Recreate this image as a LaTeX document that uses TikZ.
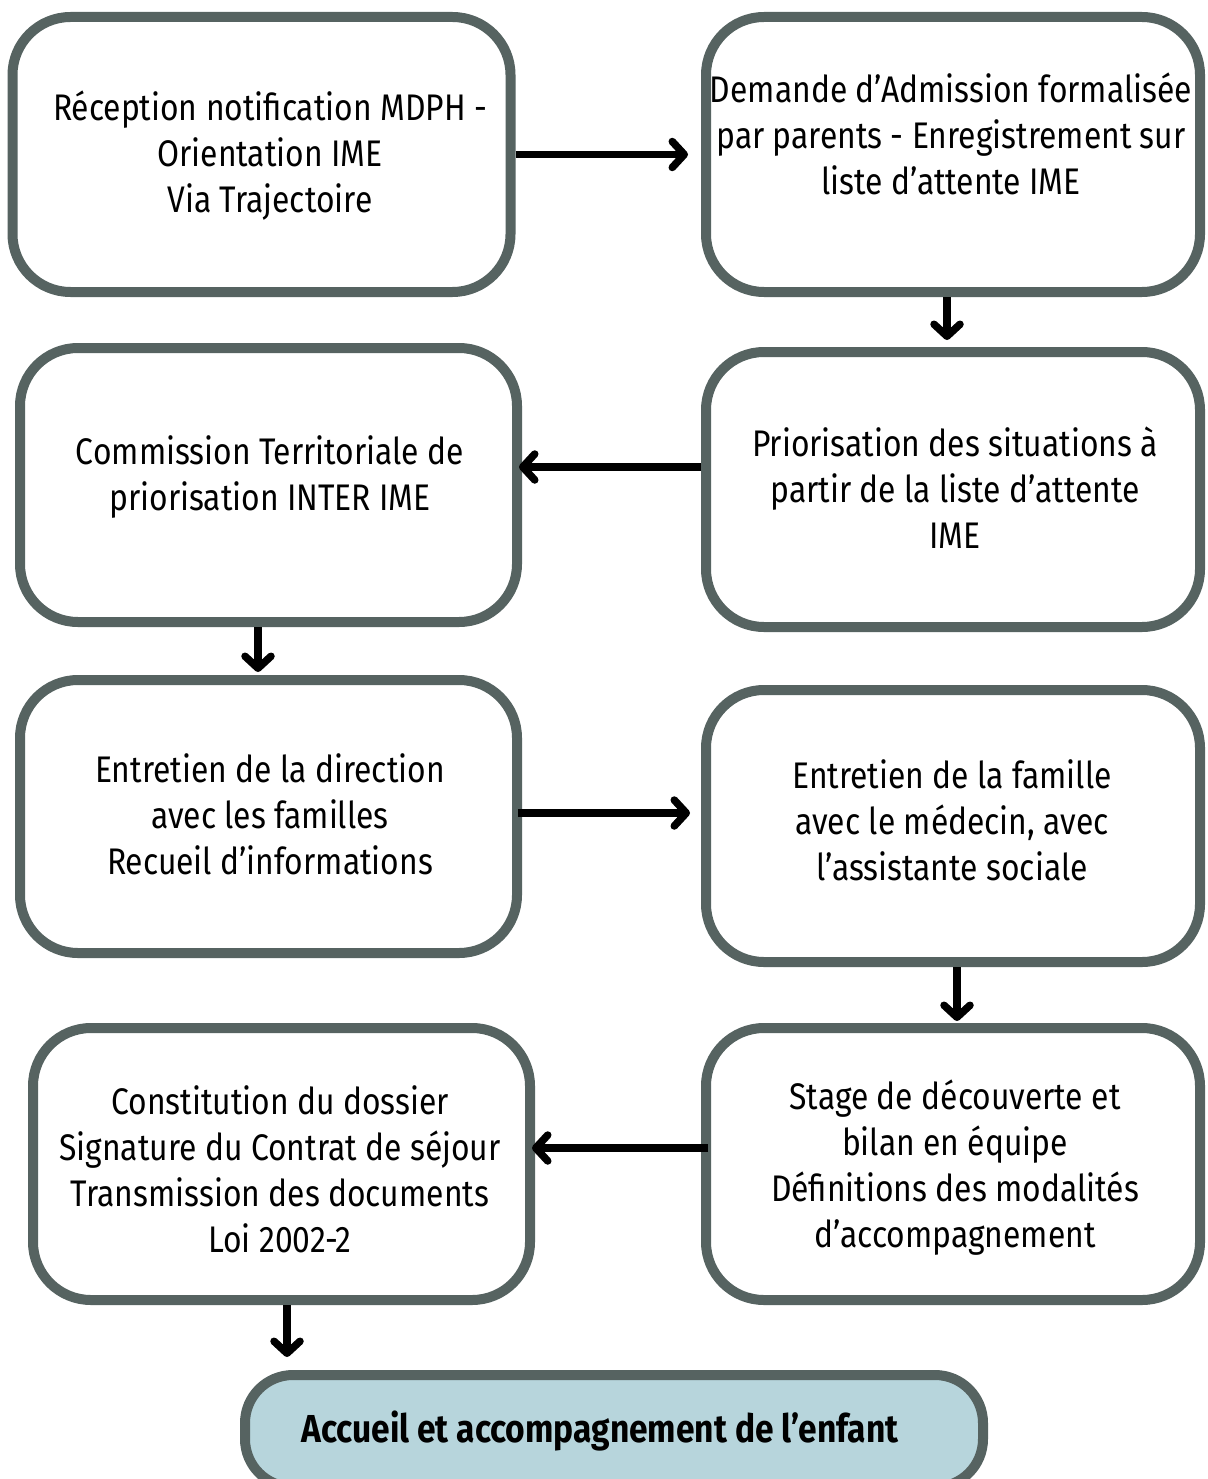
\documentclass[tikz,border=0pt]{standalone}
\usepackage{fontspec}
\setmainfont{Fira Sans}[FakeStretch=0.86]
\usetikzlibrary{arrows.meta}
\definecolor{boxgray}{RGB}{86,99,97}
\definecolor{endfill}{RGB}{183,213,220}
\begin{document}
\begin{tikzpicture}[x=1pt,y=-1pt,
 box/.style={draw=boxgray, line width=10pt, rounded corners=58pt, fill=white, inner sep=0pt},
 txt/.style={align=center, font=\fontsize{37}{46}\selectfont, inner sep=0pt},
 arr/.style={line width=7.5pt, -{Straight Barb[length=12pt,width=26pt,line cap=round,line join=round]}},
]
\clip (0,0) rectangle (1207,1479);
\useasboundingbox (0,0) rectangle (1207,1479);
\fill[white] (0,0) rectangle (1207,1479);

\node[box, minimum width=498pt, minimum height=275pt] (b1) at (261.5,154.5) {};
\node[box, minimum width=494pt, minimum height=275pt] (b2) at (953,154.5) {};
\node[box, minimum width=494pt, minimum height=275pt] (b3) at (953,489.5) {};
\node[box, minimum width=497pt, minimum height=274pt] (b4) at (268.5,485) {};
\node[box, minimum width=497pt, minimum height=273pt] (b5) at (268.5,816.5) {};
\node[box, minimum width=494pt, minimum height=272pt] (b6) at (953,826) {};
\node[box, minimum width=494pt, minimum height=272pt] (b7) at (953,1164) {};
\node[box, minimum width=497pt, minimum height=272pt] (b8) at (281.5,1164) {};
\node[box, fill=endfill, rounded corners=48pt, minimum width=738pt, minimum height=112pt] (fin) at (614,1431) {};

\node[txt] (t1) at (270,156) {Réception notification MDPH -\\Orientation IME\\Via Trajectoire};
\node[txt] (t2) at (951,134) {Demande d’Admission formalisée\\par parents - Enregistrement sur\\liste d’attente IME};
\node[txt] (t3) at (955,488) {Priorisation des situations à\\partir de la liste d’attente\\IME};
\node[txt] (t4) at (270,477) {Commission Territoriale de\\priorisation INTER IME};
\node[txt] (t5) at (270,814) {Entretien de la direction\\avec les familles\\Recueil d’informations};
\node[txt] (t6) at (952,820) {Entretien de la famille\\avec le médecin, avec\\l’assistante sociale};
\node[txt] (t7) at (955,1168) {Stage de découverte et\\bilan en équipe\\Définitions des modalités\\d’accompagnement};
\node[txt] (t8) at (280,1169) {Constitution du dossier\\Signature du Contrat de séjour\\Transmission des documents\\Loi 2002-2};
\node[txt, font=\fontsize{39}{46}\selectfont\bfseries] (t9) at (600,1431) {Accueil et accompagnement de l’enfant};

% connector anchor points
\coordinate (a1s) at (b1.east);
\coordinate (a2s) at ([xshift=-6pt]b2.south);
\coordinate (a3s) at ([yshift=22.5pt]b3.west);
\coordinate (a4s) at ([xshift=-10.5pt]b4.south);
\coordinate (a5s) at ([xshift=-4pt,yshift=3.5pt]b5.east);
\coordinate (a6s) at ([xshift=4pt]b6.south);
\coordinate (a7s) at ([xshift=7pt,yshift=16pt]b7.west);
\coordinate (a8s) at ([xshift=5.5pt]b8.south);

\draw[arr, shorten >=13pt] (a1s) -- (a1s -| b2.west);
\draw[arr, shorten >=7pt] (a2s) -- (a2s |- b3.north);
\draw[arr, shorten >=-3pt] (a3s) -- (a3s -| b4.east);
\draw[arr, shorten >=3pt] (a4s) -- (a4s |- b5.north);
\draw[arr, shorten >=11pt] (a5s) -- (a5s -| b6.west);
\draw[arr, shorten >=2pt] (a6s) -- (a6s |- b7.north);
\draw[arr, shorten >=-3pt] (a7s) -- (a7s -| b8.east);
\draw[arr, shorten >=13pt] (a8s) -- (a8s |- fin.north);
\end{tikzpicture}
\end{document}
